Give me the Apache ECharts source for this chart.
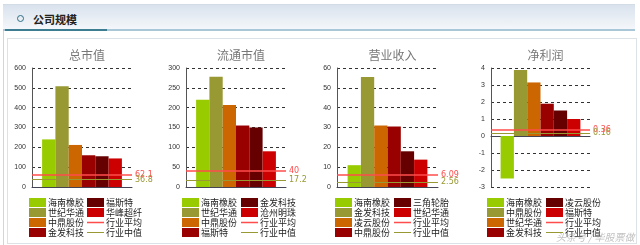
<!DOCTYPE html>
<html>
<head>
<meta charset="utf-8">
<script src="https://cdn.jsdelivr.net/npm/echarts@6/dist/echarts.min.js"></script>
<style>
  body { margin: 0; width: 640px; height: 245px; position: relative; background: #fff; overflow: hidden;
         font-family: "Noto Sans CJK SC", sans-serif; }
  .frame { position: absolute; left: 3px; top: 4px; width: 1px; height: 241px; background: #cfd6dd; }
  .header { position: absolute; left: 3px; top: 4px; width: 632px; height: 25px;
            background: linear-gradient(#d9e2ed, #f5f8fb); border-top: 1px solid #d3dbe4; }
  .uline { position: absolute; left: 3px; top: 29px; width: 632px; height: 2px; background: #a9c7d6; }
  .uline-dark { position: absolute; left: 5px; top: 29px; width: 102px; height: 2px; background: #3d7d92; }
  .dot { position: absolute; left: 17px; top: 15px; width: 5px; height: 5px; border: 1.5px solid #2f6f85; border-radius: 50%; }
  .htitle { position: absolute; left: 33px; top: 11px; font-size: 11px; font-weight: bold; color: #222; line-height: 16px; }
  .panel { position: absolute; left: 7px; top: 38px; width: 628px; height: 204px; border: 1px solid #dde2e7; }
  .chart { position: absolute; top: 38px; width: 160px; height: 205px; }
  .mark { position: absolute; left: 556px; top: 229px; font-size: 10px; font-style: italic; color: rgba(150,150,150,0.6); }
</style>
</head>
<body>
<div class="frame"></div>
<div class="header"></div>
<div class="uline"></div>
<div class="uline-dark"></div>
<div class="dot"></div>
<div class="htitle">公司规模</div>
<div class="panel"></div>
<div id="c0" class="chart" style="left:0px"></div>
<div id="c1" class="chart" style="left:160px"></div>
<div id="c2" class="chart" style="left:320px"></div>
<div id="c3" class="chart" style="left:475px"></div>
<div class="mark">头条号 / 华股票做CT</div>
<script>
// 数据
const titles = ['总市值', '流通市值', '营业收入', '净利润']
const names0 = ['海南橡胶', '世纪华通', '中鼎股份', '金发科技', '福斯特', '华峰超纤']
const values0 = [240, 508, 212, 160, 155, 144]
const names1 = ['海南橡胶', '世纪华通', '中鼎股份', '福斯特', '金发科技', '沧州明珠']
const values1 = [220, 278, 207, 155, 150, 90]
const names2 = ['海南橡胶', '金发科技', '凌云股份', '中鼎股份', '三角轮胎', '世纪华通']
const values2 = [11, 55.5, 31, 30.5, 18, 13.8]
const names3 = ['海南橡胶', '中鼎股份', '世纪华通', '金发科技', '凌云股份', '福斯特']
const values3 = [-2.5, 3.88, 3.15, 1.9, 1.5, 1.0]
const avgs = [62.1, 40, 6.09, 0.36]
const medians = [36.8, 17.2, 2.56, 0.16]
const yMin = [0, 0, 0, -3]
const yMax = [600, 300, 60, 4]
const yStep = [100, 50, 10, 1]

const allNames = [names0, names1, names2, names3]
const allValues = [values0, values1, values2, values3]

// 样式
const barColors = ['#99cc00', '#999933', '#cc6600', '#990000', '#660000', '#cc0000']
const avgColor = '#ff4d4d'
const medColor = '#999933'
const font = 'Noto Sans CJK SC'
const gridLeft = [32, 26, 17, 16]
const gridWidth = [100, 100, 101, 99]
const legendLeft = [[29, 87], [22, 81], [15, 74], [12, 71]]
// 图例里的细线图标（角上两个极小三角只用来撑开包围盒）
const corner = 'M0,0L0.01,0L0,0.01Z M18,9L17.99,9L18,8.99Z '
const avgIcon = 'path://' + corner + 'M0,3.8L18,3.8L18,5.3L0,5.3Z'
const medIcon = 'path://' + corner + 'M0,4L18,4L18,5L0,5Z'

function legend(left, data) {
  return {
    orient: 'vertical',
    left: left,
    top: 160,
    height: 42,
    padding: 0,
    itemWidth: 17,
    itemHeight: 9,
    itemGap: 1,
    selectedMode: false,
    textStyle: { fontSize: 9, lineHeight: 9, color: '#222', fontFamily: font, padding: [0, 0, 0, -3] },
    data: data
  }
}

for (let i = 0; i < 4; i++) {
  const chart = echarts.init(document.getElementById('c' + i))
  const names = allNames[i]
  const series = names.map((n, k) => ({
    name: n,
    type: 'bar',
    barWidth: 13.3,
    barGap: '0%',
    itemStyle: { color: barColors[k] },
    data: [allValues[i][k]]
  }))
  const lineDefs = [['行业平均', avgs[i], avgColor, 1.5], ['行业中值', medians[i], medColor, 1]]
  lineDefs.forEach(([n, v, c, w]) => {
    series.push({
      name: n,
      type: 'line',
      symbol: 'none',
      itemStyle: { color: c },
      lineStyle: { color: c, width: w },
      data: [],
      markLine: {
        silent: true,
        symbol: 'none',
        lineStyle: { color: c, width: w, type: 'solid' },
        label: { position: 'end', distance: 3, fontSize: 8, color: c, fontFamily: 'DejaVu Sans' },
        data: [{ yAxis: v }]
      }
    })
  })
  const barItems = names.map((n) => ({ name: n, icon: 'rect' }))
  chart.setOption({
    animation: false,
    title: {
      text: titles[i],
      left: gridLeft[i] + gridWidth[i] / 2,
      top: 6,
      textAlign: 'center',
      textStyle: { fontSize: 12, color: '#777', fontWeight: 'normal', fontFamily: font }
    },
    grid: { left: gridLeft[i], top: 30, width: gridWidth[i], height: 119 },
    legend: [
      legend(legendLeft[i][0], barItems.slice(0, 4)),
      legend(legendLeft[i][1], barItems.slice(4).concat([
        { name: '行业平均', icon: avgIcon },
        { name: '行业中值', icon: medIcon }
      ]))
    ],
    xAxis: {
      type: 'category',
      data: [''],
      axisLine: { lineStyle: { color: '#445', width: 1 } },
      axisTick: { show: false },
      axisLabel: { show: false }
    },
    yAxis: {
      type: 'value',
      min: yMin[i],
      max: yMax[i],
      interval: yStep[i],
      axisLine: { show: true, lineStyle: { color: '#555' } },
      axisTick: { show: false },
      axisLabel: { fontSize: 7, color: '#333', margin: 6, fontFamily: 'Liberation Sans' },
      splitLine: { lineStyle: { color: '#333', type: [3, 3] } }
    },
    series: series
  })
}
</script>
</body>
</html>
